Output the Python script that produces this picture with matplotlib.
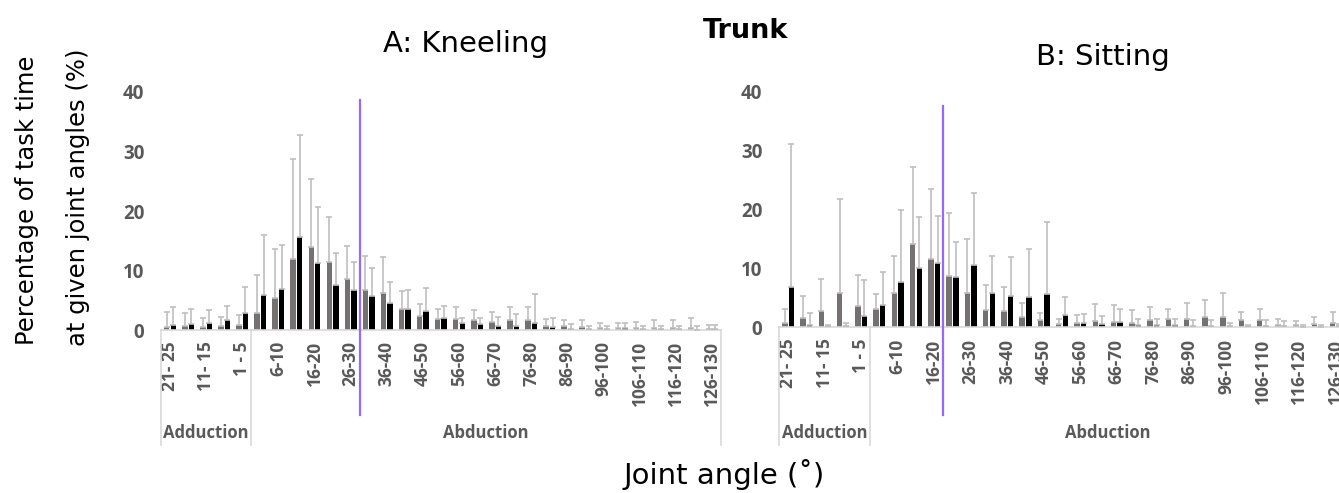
import numpy as np
import matplotlib
matplotlib.use("Agg")
import matplotlib.pyplot as plt
import matplotlib.transforms as mtransforms

# angle bins: 5 adduction bins then 26 abduction bins
categories = ["21- 25", "16- 20", "11- 15", "6- 10", "1 - 5",
              "1-5", "6-10", "11-15", "16-20", "21-25", "26-30", "31-35",
              "36-40", "41-45", "46-50", "51-55", "56-60", "61-65", "66-70",
              "71-75", "76-80", "81-85", "86-90", "91-95", "96-100",
              "101-105", "106-110", "111-115", "116-120", "121-125", "126-130"]
n_adduction = 5

# A: kneeling
kneel_grey = [0.5, 0.7, 0.5, 0.7, 0.8, 2.9, 5.4, 11.9, 13.9, 11.5, 8.6, 6.7, 6.2, 3.6, 2.4, 1.8,
              1.8, 1.7, 1.3, 1.6, 1.6, 0.7, 0.7, 0.5, 0.4, 0.3, 0.3, 0.3, 0.3, 0.3, 0.1]
kneel_grey_sd = [2.5, 2.1, 1.6, 1.5, 1.7, 6.4, 8.2, 16.9, 11.5, 7.5, 5.6, 5.8, 6.1, 3.0, 2.0, 1.7,
                 2.0, 1.7, 1.7, 2.2, 2.3, 1.1, 1.0, 1.2, 0.8, 0.9, 1.1, 1.4, 1.3, 1.7, 0.7]
kneel_black = [0.8, 1.0, 1.1, 1.6, 2.8, 5.9, 6.9, 15.6, 11.3, 7.6, 6.8, 5.7, 4.5, 3.6, 3.2, 2.1,
               1.1, 1.0, 0.7, 0.7, 1.1, 0.5, 0.2, 0.2, 0.2, 0.4, 0.2, 0.2, 0.2, 0.0, 0.2]
kneel_black_sd = [3.1, 2.5, 2.3, 2.5, 4.4, 10.1, 7.4, 17.2, 9.4, 5.3, 4.6, 4.8, 3.5, 3.1, 3.8, 2.0,
                  1.0, 1.0, 1.5, 2.0, 4.9, 1.6, 0.8, 0.4, 0.5, 0.8, 0.4, 0.4, 0.5, 0.6, 0.6]

# B: sitting
sit_grey = [0.7, 1.6, 2.8, 5.8, 3.7, 3.1, 5.9, 14.2, 11.6, 8.8, 5.9, 3.0, 2.8, 1.8, 1.3, 0.6,
            0.8, 1.1, 1.0, 0.8, 1.2, 1.4, 1.5, 1.8, 1.8, 1.2, 1.2, 0.5, 0.5, 0.6, 0.7]
sit_grey_sd = [2.4, 3.8, 5.5, 16.1, 5.3, 2.6, 6.3, 13.1, 11.9, 10.6, 9.2, 4.2, 4.0, 2.4, 1.2, 0.8,
               1.3, 2.9, 2.8, 2.1, 2.2, 1.8, 2.6, 2.9, 4.0, 1.5, 2.0, 1.0, 0.6, 1.1, 2.0]
sit_black = [6.9, 0.5, 0.2, 0.3, 2.0, 3.8, 7.8, 10.1, 11.0, 8.5, 10.6, 5.9, 5.4, 5.1, 5.7, 2.1,
             0.8, 0.6, 1.0, 0.5, 0.5, 0.5, 0.3, 0.3, 0.3, 0.3, 0.3, 0.2, 0.0, 0.0, 0.2]
sit_black_sd = [24.2, 2.0, 0.2, 0.4, 6.0, 5.6, 12.1, 8.7, 8.0, 6.0, 12.3, 6.3, 6.5, 8.3, 12.2, 3.0,
                1.5, 1.4, 2.2, 1.0, 1.0, 0.9, 1.0, 1.0, 0.5, 0.1, 0.9, 0.9, 0.5, 0.5, 0.4]

# limit lines (between bins)
kneel_limit = 10.5
sit_limit = 8.5

GREY = "#767171"
LABEL = "#595959"
AXIS = "#d9d9d9"
ERR = "#bfbfbf"
PURPLE = "#9966ff"
tick_font = dict(family="Open Sans", weight="bold", color=LABEL)

fig = plt.figure(figsize=(13.39, 4.93), dpi=100)

def panel(rect, grey, grey_sd, black, black_sd, limit, line_top, line_bot, div_bot, grp_y):
    ax = fig.add_axes(rect)
    x = np.arange(len(categories))
    w = 0.3
    ax.bar(x - 0.18, grey, w, color=GREY, zorder=2)
    ax.bar(x + 0.18, black, w, color="black", zorder=2)
    ax.errorbar(x - 0.18, grey, yerr=[np.zeros(len(x)), grey_sd], fmt="none",
                ecolor=ERR, elinewidth=1.2, capsize=2.5, capthick=1.2, zorder=3)
    ax.errorbar(x + 0.18, black, yerr=[np.zeros(len(x)), black_sd], fmt="none",
                ecolor=ERR, elinewidth=1.2, capsize=2.5, capthick=1.2, zorder=3)
    ax.set_xlim(-0.5, len(x) - 0.5)
    ax.set_ylim(0, 40)
    for s in ["top", "right", "left"]:
        ax.spines[s].set_visible(False)
    ax.spines["bottom"].set_color(AXIS)
    ax.spines["bottom"].set_linewidth(1.2)
    ax.set_yticks([0, 10, 20, 30, 40])
    ax.set_yticklabels(["0", "10", "20", "30", "40"], fontsize=13.5, **tick_font)
    ax.set_xticks(x[::2])
    ax.set_xticklabels(categories[::2], rotation=90, va="top", ha="center",
                       fontsize=12.5, **tick_font)
    ax.tick_params(axis="both", length=0)
    ax.tick_params(axis="y", pad=12)
    ax.tick_params(axis="x", pad=8)

    trans = mtransforms.blended_transform_factory(ax.transData, ax.transAxes)
    for xd in [-0.5, n_adduction - 0.5, len(x) - 0.5]:
        ax.plot([xd, xd], [0, div_bot], color=AXIS, lw=1.2, transform=trans, clip_on=False)
    ax.text((n_adduction - 1) / 2, grp_y, "Adduction", transform=trans, ha="center",
            va="center", fontsize=12, **tick_font)
    ax.text((n_adduction + len(x) - 1) / 2, grp_y, "Abduction", transform=trans,
            ha="center", va="center", fontsize=12, **tick_font)
    ax.plot([limit, limit], [line_bot, line_top], color=PURPLE, lw=1.6,
            transform=trans, clip_on=False, zorder=4)
    return ax

panel([0.1202, 0.3306, 0.4182, 0.4828], kneel_grey, kneel_grey_sd, kneel_black,
      kneel_black_sd, kneel_limit, 0.966, -0.357, -0.483, -0.433)
panel([0.5818, 0.3357, 0.4227, 0.4777], sit_grey, sit_grey_sd, sit_black,
      sit_black_sd, sit_limit, 0.941, -0.372, -0.499, -0.448)

fig.text(466 / 1339, 1 - 52 / 493, "A: Kneeling", ha="center", va="baseline", fontsize=21)
fig.text(1103 / 1339, 1 - 65 / 493, "B: Sitting", ha="center", va="baseline", fontsize=21)
fig.text(746 / 1339, 1 - 38 / 493, "Trunk", ha="center", va="baseline", fontsize=19.5,
         weight="bold")
fig.text(27 / 1339, 1 - 200 / 493, "Percentage of task time", rotation=90, ha="center",
         va="center", fontsize=17.5)
fig.text(78 / 1339, 1 - 197 / 493, "at given joint angles (%)", rotation=90, ha="center",
         va="center", fontsize=17.5)
fig.text(724 / 1339, 1 - 484 / 493, "Joint angle (\u02da)", ha="center", va="baseline",
         fontsize=21)

fig.savefig("out.png", dpi=100)
